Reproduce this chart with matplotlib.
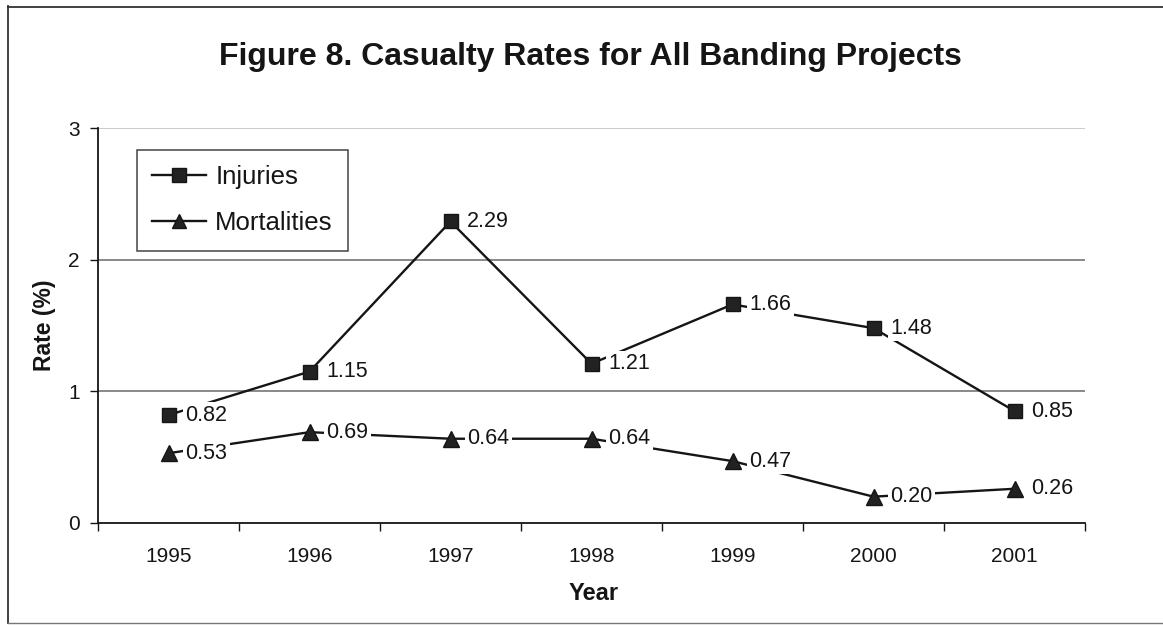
import matplotlib
matplotlib.use("Agg")
import matplotlib.pyplot as plt
from matplotlib.lines import Line2D

# Casualty rates (%) by banding year
years = ["1995", "1996", "1997", "1998", "1999", "2000", "2001"]
injuries = [0.82, 1.15, 2.29, 1.21, 1.66, 1.48, 0.85]
mortalities = [0.53, 0.69, 0.64, 0.64, 0.47, 0.20, 0.26]
y_ticks = [0, 1, 2, 3]

plt.rcParams["font.family"] = ["Liberation Sans", "DejaVu Sans"]
INK = "#151515"

W, H = 1163, 626
fig = plt.figure(figsize=(W / 100, H / 100), dpi=100)
fig.patch.set_facecolor("white")

ax = fig.add_axes([98 / W, 1 - 523 / H, (1085 - 98) / W, (523 - 128) / H])
x = list(range(len(years)))

# horizontal gridlines
for v in y_ticks[1:]:
    ax.axhline(v, color="#bdbdbd" if v == y_ticks[-1] else "#6a6a6a",
               lw=1.1, zorder=1)

ax.plot(x, injuries, color=INK, lw=1.7, zorder=2)
ax.plot(x, mortalities, color=INK, lw=1.7, zorder=2)
ax.plot(x, injuries, ls="none", marker="s", ms=10.5, color="#222222",
        mec=INK, zorder=5)
ax.plot(x, mortalities, ls="none", marker="^", ms=11.5, color="#222222",
        mec=INK, zorder=5)

# value labels to the right of each point, on white boxes
for series in (injuries, mortalities):
    for xi, v in zip(x, series):
        ax.annotate(f"{v:.2f}", (xi, v), xytext=(12, 0),
                    textcoords="offset points", ha="left", va="center",
                    fontsize=15.5, color=INK, zorder=4,
                    bbox=dict(boxstyle="square,pad=0.12", fc="white",
                              ec="none"))

ax.set_xlim(-0.5, len(years) - 0.5)
ax.set_ylim(0, 3)
ax.set_xticks(x)
ax.set_xticklabels(years)
ax.set_xticks([i - 0.5 for i in range(len(years) + 1)], minor=True)
ax.set_yticks(y_ticks)
ax.tick_params(axis="x", which="major", length=0, pad=17, labelsize=15,
               colors=INK)
ax.tick_params(axis="x", which="minor", length=6, width=1, color=INK,
               direction="out")
ax.tick_params(axis="y", length=6, width=1, pad=7, labelsize=15,
               colors=INK, direction="out")

for side in ("top", "right"):
    ax.spines[side].set_visible(False)
for side in ("left", "bottom"):
    ax.spines[side].set_color(INK)
    ax.spines[side].set_linewidth(1.3)

ax.set_xlabel("Year", fontsize=17, fontweight="bold", color=INK, va="center")
ax.xaxis.set_label_coords(0.5025, (523 - 594) / (523 - 128))
ax.set_ylabel("Rate (%)", fontsize=16.5, fontweight="bold", color=INK,
              va="center")
ax.yaxis.set_label_coords((45 - 98) / (1085 - 98), 0.5)

handles = [
    Line2D([], [], color=INK, lw=1.7, marker="s", ms=9.5, mfc="#222222"),
    Line2D([], [], color=INK, lw=1.7, marker="^", ms=10.5, mfc="#222222"),
]
leg = ax.legend(handles, ["Injuries", "Mortalities"], loc="upper left",
                bbox_to_anchor=((137 - 98) / (1085 - 98), (523 - 150) / (523 - 128)),
                borderaxespad=0, fontsize=18.5, frameon=True, fancybox=False,
                edgecolor=INK, handlelength=2.1, handletextpad=0.35,
                labelspacing=0.85, borderpad=0.6)
leg.get_frame().set_linewidth(1.1)
for t in leg.get_texts():
    t.set_color(INK)

fig.text(590 / W, 1 - 57 / H, "Figure 8. Casualty Rates for All Banding Projects",
         ha="center", va="center", fontsize=23, fontweight="bold", color=INK)

# outer frame
fx = 8 / W
fig.add_artist(Line2D([fx, fx], [3 / H, 1 - 6 / H], color="#333333", lw=1.3,
                      transform=fig.transFigure))
fig.add_artist(Line2D([fx, 1], [1 - 7 / H, 1 - 7 / H], color="#333333", lw=1.3,
                      transform=fig.transFigure))
fig.add_artist(Line2D([fx, 1], [3 / H, 3 / H], color="#777777", lw=1.0,
                      transform=fig.transFigure))

fig.savefig("out.png", dpi=100, facecolor="white")
